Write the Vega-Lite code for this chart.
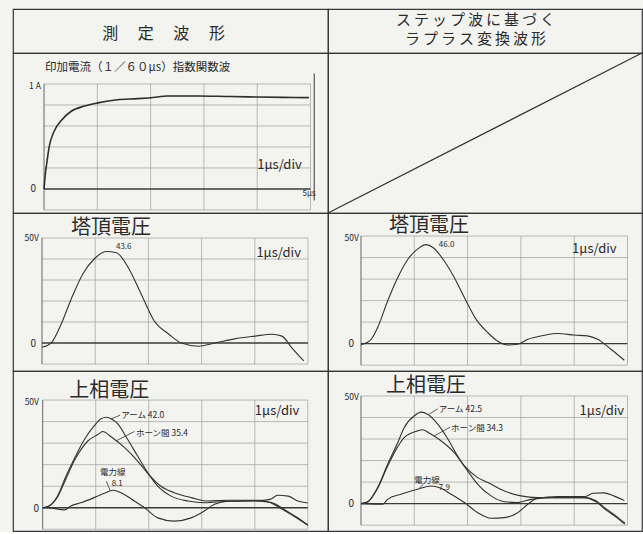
{
"$schema":"https://vega.github.io/schema/vega-lite/v6.json",
"background":"#f3f3f0",
"padding":{"left":12,"top":8,"right":0,"bottom":0},
"spacing":0,
"bounds":"flush",
"columns":2,
"config":{"view":{"stroke":"#383838","strokeWidth":1.2},"concat":{"spacing":0},"text":{"font":"Noto Sans CJK JP"}},
"datasets":{
"grid":[
{"g":"V","o":"v","k":"axis","x":0,"y":-10,"y2":50},
{"g":"V","o":"v","k":"grid","x":1,"y":-10,"y2":50},
{"g":"V","o":"v","k":"grid","x":2,"y":-10,"y2":50},
{"g":"V","o":"v","k":"grid","x":3,"y":-10,"y2":50},
{"g":"V","o":"v","k":"grid","x":4,"y":-10,"y2":50},
{"g":"V","o":"v","k":"grid","x":5,"y":-10,"y2":50},
{"g":"V","o":"h","k":"grid","y":-10,"x":0,"x2":5},
{"g":"V","o":"h","k":"zero","y":0,"x":0,"x2":5},
{"g":"V","o":"h","k":"grid","y":10,"x":0,"x2":5},
{"g":"V","o":"h","k":"grid","y":20,"x":0,"x2":5},
{"g":"V","o":"h","k":"grid","y":30,"x":0,"x2":5},
{"g":"V","o":"h","k":"grid","y":40,"x":0,"x2":5},
{"g":"V","o":"h","k":"grid","y":50,"x":0,"x2":5},
{"g":"A","o":"v","k":"axis","x":0,"y":-0.2,"y2":1},
{"g":"A","o":"v","k":"grid","x":1,"y":-0.2,"y2":1},
{"g":"A","o":"v","k":"grid","x":2,"y":-0.2,"y2":1},
{"g":"A","o":"v","k":"grid","x":3,"y":-0.2,"y2":1},
{"g":"A","o":"v","k":"grid","x":4,"y":-0.2,"y2":1},
{"g":"A","o":"v","k":"grid","x":5,"y":-0.2,"y2":1},
{"g":"A","o":"v","k":"edge","x":5.07,"y":-0.11,"y2":1.1},
{"g":"A","o":"h","k":"grid","y":-0.2,"x":0,"x2":5},
{"g":"A","o":"h","k":"zero","y":0,"x":0,"x2":5},
{"g":"A","o":"h","k":"grid","y":0.2,"x":0,"x2":5},
{"g":"A","o":"h","k":"grid","y":0.4,"x":0,"x2":5},
{"g":"A","o":"h","k":"grid","y":0.6,"x":0,"x2":5},
{"g":"A","o":"h","k":"grid","y":0.8,"x":0,"x2":5},
{"g":"A","o":"h","k":"grid","y":1.0,"x":0,"x2":5}
],
"waves":[
{"p":"I","s":"i","x":0,"y":0},{"p":"I","s":"i","x":0.02,"y":0.12},{"p":"I","s":"i","x":0.05,"y":0.24},{"p":"I","s":"i","x":0.1,"y":0.41},{"p":"I","s":"i","x":0.19,"y":0.55},{"p":"I","s":"i","x":0.32,"y":0.65},{"p":"I","s":"i","x":0.51,"y":0.74},{"p":"I","s":"i","x":0.76,"y":0.79},{"p":"I","s":"i","x":1.01,"y":0.82},{"p":"I","s":"i","x":1.38,"y":0.85},{"p":"I","s":"i","x":1.76,"y":0.86},{"p":"I","s":"i","x":2.13,"y":0.876},{"p":"I","s":"i","x":2.3,"y":0.886},{"p":"I","s":"i","x":2.88,"y":0.886},{"p":"I","s":"i","x":3.5,"y":0.88},{"p":"I","s":"i","x":4.0,"y":0.876},{"p":"I","s":"i","x":4.5,"y":0.872},{"p":"I","s":"i","x":4.97,"y":0.87},
{"p":"TL","s":"t","x":0,"y":-2},{"p":"TL","s":"t","x":0.17,"y":0},{"p":"TL","s":"t","x":0.36,"y":9},{"p":"TL","s":"t","x":0.55,"y":21},{"p":"TL","s":"t","x":0.77,"y":33},{"p":"TL","s":"t","x":0.98,"y":40},{"p":"TL","s":"t","x":1.21,"y":43.6},{"p":"TL","s":"t","x":1.4,"y":43},{"p":"TL","s":"t","x":1.62,"y":36},{"p":"TL","s":"t","x":1.87,"y":23},{"p":"TL","s":"t","x":2.11,"y":10.5},{"p":"TL","s":"t","x":2.38,"y":4.3},{"p":"TL","s":"t","x":2.62,"y":0},{"p":"TL","s":"t","x":2.94,"y":-1.5},{"p":"TL","s":"t","x":3.25,"y":0},{"p":"TL","s":"t","x":3.62,"y":2},{"p":"TL","s":"t","x":4.0,"y":3.3},{"p":"TL","s":"t","x":4.32,"y":4.2},{"p":"TL","s":"t","x":4.51,"y":3.3},{"p":"TL","s":"t","x":4.7,"y":-2.4},{"p":"TL","s":"t","x":4.92,"y":-8.5},
{"p":"TR","s":"t","x":0,"y":-0.5},{"p":"TR","s":"t","x":0.19,"y":2},{"p":"TR","s":"t","x":0.31,"y":7.4},{"p":"TR","s":"t","x":0.5,"y":19.8},{"p":"TR","s":"t","x":0.69,"y":30.7},{"p":"TR","s":"t","x":0.88,"y":39.2},{"p":"TR","s":"t","x":1.06,"y":43.9},{"p":"TR","s":"t","x":1.22,"y":46},{"p":"TR","s":"t","x":1.35,"y":44.7},{"p":"TR","s":"t","x":1.56,"y":38.5},{"p":"TR","s":"t","x":1.75,"y":30.7},{"p":"TR","s":"t","x":1.94,"y":21.4},{"p":"TR","s":"t","x":2.16,"y":11.3},{"p":"TR","s":"t","x":2.38,"y":5.1},{"p":"TR","s":"t","x":2.56,"y":1.2},{"p":"TR","s":"t","x":2.75,"y":-0.6},{"p":"TR","s":"t","x":2.94,"y":-0.3},{"p":"TR","s":"t","x":3.13,"y":2},{"p":"TR","s":"t","x":3.44,"y":3.9},{"p":"TR","s":"t","x":3.69,"y":4.7},{"p":"TR","s":"t","x":4.0,"y":4},{"p":"TR","s":"t","x":4.25,"y":3.6},{"p":"TR","s":"t","x":4.44,"y":2},{"p":"TR","s":"t","x":4.69,"y":-2.6},{"p":"TR","s":"t","x":4.94,"y":-7.7},
{"p":"UL","s":"arm","x":0,"y":0},{"p":"UL","s":"arm","x":0.12,"y":0.8},{"p":"UL","s":"arm","x":0.28,"y":5.4},{"p":"UL","s":"arm","x":0.44,"y":14.7},{"p":"UL","s":"arm","x":0.6,"y":23},{"p":"UL","s":"arm","x":0.79,"y":31.8},{"p":"UL","s":"arm","x":0.97,"y":38},{"p":"UL","s":"arm","x":1.1,"y":41.3},{"p":"UL","s":"arm","x":1.2,"y":42},{"p":"UL","s":"arm","x":1.3,"y":41.2},{"p":"UL","s":"arm","x":1.42,"y":38.8},{"p":"UL","s":"arm","x":1.6,"y":31.8},{"p":"UL","s":"arm","x":1.79,"y":24},{"p":"UL","s":"arm","x":1.98,"y":16.3},{"p":"UL","s":"arm","x":2.17,"y":10},{"p":"UL","s":"arm","x":2.42,"y":5.4},{"p":"UL","s":"arm","x":2.74,"y":3.1},{"p":"UL","s":"arm","x":3.05,"y":2.3},{"p":"UL","s":"arm","x":3.5,"y":3},{"p":"UL","s":"arm","x":4.0,"y":3.2},{"p":"UL","s":"arm","x":4.3,"y":2.5},{"p":"UL","s":"arm","x":4.6,"y":-1.5},{"p":"UL","s":"arm","x":4.8,"y":-4.5},{"p":"UL","s":"arm","x":5.0,"y":-8},
{"p":"UL","s":"horn","x":0,"y":0},{"p":"UL","s":"horn","x":0.12,"y":0.8},{"p":"UL","s":"horn","x":0.28,"y":5},{"p":"UL","s":"horn","x":0.44,"y":13.5},{"p":"UL","s":"horn","x":0.6,"y":22},{"p":"UL","s":"horn","x":0.72,"y":27},{"p":"UL","s":"horn","x":0.85,"y":31},{"p":"UL","s":"horn","x":1.04,"y":34},{"p":"UL","s":"horn","x":1.13,"y":35.4},{"p":"UL","s":"horn","x":1.29,"y":33},{"p":"UL","s":"horn","x":1.54,"y":28},{"p":"UL","s":"horn","x":1.79,"y":21.7},{"p":"UL","s":"horn","x":1.98,"y":16},{"p":"UL","s":"horn","x":2.23,"y":10},{"p":"UL","s":"horn","x":2.48,"y":7},{"p":"UL","s":"horn","x":2.8,"y":4.7},{"p":"UL","s":"horn","x":3.11,"y":3.1},{"p":"UL","s":"horn","x":3.5,"y":3.5},{"p":"UL","s":"horn","x":4.1,"y":3.5},{"p":"UL","s":"horn","x":4.3,"y":2.3},{"p":"UL","s":"horn","x":4.5,"y":-0.5},{"p":"UL","s":"horn","x":4.68,"y":-3},{"p":"UL","s":"horn","x":5.0,"y":-8.2},
{"p":"UL","s":"pow","x":0,"y":0},{"p":"UL","s":"pow","x":0.2,"y":-0.3},{"p":"UL","s":"pow","x":0.41,"y":-1},{"p":"UL","s":"pow","x":0.53,"y":0.8},{"p":"UL","s":"pow","x":0.72,"y":2.3},{"p":"UL","s":"pow","x":0.97,"y":4.7},{"p":"UL","s":"pow","x":1.16,"y":6.7},{"p":"UL","s":"pow","x":1.32,"y":8.1},{"p":"UL","s":"pow","x":1.54,"y":6.2},{"p":"UL","s":"pow","x":1.73,"y":3.1},{"p":"UL","s":"pow","x":1.92,"y":0},{"p":"UL","s":"pow","x":2.17,"y":-4.7},{"p":"UL","s":"pow","x":2.48,"y":-6.2},{"p":"UL","s":"pow","x":2.8,"y":-4.7},{"p":"UL","s":"pow","x":3.05,"y":-1.5},{"p":"UL","s":"pow","x":3.24,"y":1.6},{"p":"UL","s":"pow","x":3.5,"y":3},{"p":"UL","s":"pow","x":4.1,"y":3.3},{"p":"UL","s":"pow","x":4.3,"y":4},{"p":"UL","s":"pow","x":4.43,"y":5.8},{"p":"UL","s":"pow","x":4.63,"y":5.4},{"p":"UL","s":"pow","x":4.81,"y":3.1},{"p":"UL","s":"pow","x":5.0,"y":2.2},
{"p":"UR","s":"arm","x":0,"y":0},{"p":"UR","s":"arm","x":0.13,"y":0.9},{"p":"UR","s":"arm","x":0.31,"y":7.4},{"p":"UR","s":"arm","x":0.5,"y":18.3},{"p":"UR","s":"arm","x":0.69,"y":28.4},{"p":"UR","s":"arm","x":0.81,"y":35.3},{"p":"UR","s":"arm","x":1.0,"y":40.8},{"p":"UR","s":"arm","x":1.13,"y":42.5},{"p":"UR","s":"arm","x":1.25,"y":41.5},{"p":"UR","s":"arm","x":1.44,"y":36.9},{"p":"UR","s":"arm","x":1.63,"y":30},{"p":"UR","s":"arm","x":1.81,"y":22.2},{"p":"UR","s":"arm","x":2.0,"y":15.2},{"p":"UR","s":"arm","x":2.19,"y":9},{"p":"UR","s":"arm","x":2.44,"y":3.6},{"p":"UR","s":"arm","x":2.69,"y":0.9},{"p":"UR","s":"arm","x":2.94,"y":0.5},{"p":"UR","s":"arm","x":3.19,"y":2},{"p":"UR","s":"arm","x":3.56,"y":2.8},{"p":"UR","s":"arm","x":4.2,"y":2.8},{"p":"UR","s":"arm","x":4.4,"y":1.5},{"p":"UR","s":"arm","x":4.6,"y":-2.5},{"p":"UR","s":"arm","x":4.8,"y":-6},{"p":"UR","s":"arm","x":4.95,"y":-9},
{"p":"UR","s":"horn","x":0,"y":0},{"p":"UR","s":"horn","x":0.13,"y":0.9},{"p":"UR","s":"horn","x":0.31,"y":7},{"p":"UR","s":"horn","x":0.5,"y":17.5},{"p":"UR","s":"horn","x":0.69,"y":26.5},{"p":"UR","s":"horn","x":0.81,"y":30.7},{"p":"UR","s":"horn","x":1.06,"y":33.8},{"p":"UR","s":"horn","x":1.16,"y":34.3},{"p":"UR","s":"horn","x":1.31,"y":32.3},{"p":"UR","s":"horn","x":1.5,"y":29.2},{"p":"UR","s":"horn","x":1.75,"y":23.7},{"p":"UR","s":"horn","x":1.94,"y":17.5},{"p":"UR","s":"horn","x":2.19,"y":12.1},{"p":"UR","s":"horn","x":2.38,"y":9.8},{"p":"UR","s":"horn","x":2.69,"y":5.9},{"p":"UR","s":"horn","x":3.0,"y":3.6},{"p":"UR","s":"horn","x":3.31,"y":2.8},{"p":"UR","s":"horn","x":4.2,"y":2.8},{"p":"UR","s":"horn","x":4.4,"y":1},{"p":"UR","s":"horn","x":4.6,"y":-3},{"p":"UR","s":"horn","x":4.8,"y":-6.5},{"p":"UR","s":"horn","x":4.95,"y":-9.5},
{"p":"UR","s":"pow","x":0,"y":0},{"p":"UR","s":"pow","x":0.41,"y":-0.3},{"p":"UR","s":"pow","x":0.5,"y":2},{"p":"UR","s":"pow","x":0.75,"y":4.4},{"p":"UR","s":"pow","x":1.06,"y":6.7},{"p":"UR","s":"pow","x":1.31,"y":8.2},{"p":"UR","s":"pow","x":1.5,"y":7.1},{"p":"UR","s":"pow","x":1.69,"y":4.4},{"p":"UR","s":"pow","x":1.94,"y":0.5},{"p":"UR","s":"pow","x":2.19,"y":-4.2},{"p":"UR","s":"pow","x":2.44,"y":-6.8},{"p":"UR","s":"pow","x":2.69,"y":-6.5},{"p":"UR","s":"pow","x":2.94,"y":-4.2},{"p":"UR","s":"pow","x":3.13,"y":-0.3},{"p":"UR","s":"pow","x":3.31,"y":2.5},{"p":"UR","s":"pow","x":3.69,"y":3.3},{"p":"UR","s":"pow","x":4.2,"y":3.3},{"p":"UR","s":"pow","x":4.35,"y":4.8},{"p":"UR","s":"pow","x":4.55,"y":5},{"p":"UR","s":"pow","x":4.75,"y":3.5},{"p":"UR","s":"pow","x":4.94,"y":1.5}
],
"leaders":[
{"p":"UL","id":"a","x":1.29,"y":41.2},{"p":"UL","id":"a","x":1.46,"y":43},
{"p":"UL","id":"h","x":1.38,"y":31},{"p":"UL","id":"h","x":1.73,"y":35.4},
{"p":"UL","id":"w","x":1.2,"y":12.4},{"p":"UL","id":"w","x":1.27,"y":8.0},
{"p":"UR","id":"a","x":1.28,"y":41.6},{"p":"UR","id":"a","x":1.44,"y":44},
{"p":"UR","id":"h","x":1.37,"y":31.4},{"p":"UR","id":"h","x":1.67,"y":35.5},
{"p":"UR","id":"w","x":1.09,"y":7.1},{"p":"UR","id":"w","x":1.17,"y":9.0}
],
"notes":[
{"p":"I","k":"sub","x":0.02,"y":1.152,"text":"印加電流（１／６０µs）指数関数波"},
{"p":"I","k":"ax","x":-0.06,"y":0.98,"text":"1 A"},
{"p":"I","k":"zero","x":-0.15,"y":0,"text":"0"},
{"p":"I","k":"small","x":4.85,"y":-0.05,"text":"5µs"},
{"p":"I","k":"div","x":4.0,"y":0.23,"text":"1µs/div"},
{"p":"TL","k":"title","x":0.545,"y":54.8,"text":"塔頂電圧"},
{"p":"TL","k":"ax","x":-0.06,"y":50,"text":"50V"},
{"p":"TL","k":"zero","x":-0.11,"y":-0.5,"text":"0"},
{"p":"TL","k":"small","x":1.39,"y":45.6,"text":"43.6"},
{"p":"TL","k":"div","x":4.03,"y":42.9,"text":"1µs/div"},
{"p":"TR","k":"title","x":0.525,"y":54.6,"text":"塔頂電圧"},
{"p":"TR","k":"ax","x":-0.04,"y":49,"text":"50V"},
{"p":"TR","k":"zero","x":-0.13,"y":0,"text":"0"},
{"p":"TR","k":"small","x":1.46,"y":45.8,"text":"46.0"},
{"p":"TR","k":"div","x":3.96,"y":44,"text":"1µs/div"},
{"p":"UL","k":"title","x":0.5,"y":54.2,"text":"上相電圧"},
{"p":"UL","k":"ax","x":-0.07,"y":49,"text":"50V"},
{"p":"UL","k":"zero","x":-0.07,"y":-0.6,"text":"0"},
{"p":"UL","k":"label","x":1.48,"y":43,"text":"アーム 42.0"},
{"p":"UL","k":"label","x":1.76,"y":34.7,"text":"ホーン間 35.4"},
{"p":"UL","k":"label","x":1.08,"y":16.4,"text":"電力線"},
{"p":"UL","k":"small","x":1.3,"y":10.9,"text":"8.1"},
{"p":"UL","k":"div","x":4.0,"y":44.9,"text":"1µs/div"},
{"p":"UR","k":"title","x":0.47,"y":54.6,"text":"上相電圧"},
{"p":"UR","k":"ax","x":-0.04,"y":49.5,"text":"50V"},
{"p":"UR","k":"zero","x":-0.13,"y":0,"text":"0"},
{"p":"UR","k":"label","x":1.46,"y":44,"text":"アーム 42.5"},
{"p":"UR","k":"label","x":1.69,"y":35.1,"text":"ホーン間 34.3"},
{"p":"UR","k":"label","x":1.0,"y":10.8,"text":"電力線"},
{"p":"UR","k":"small","x":1.46,"y":7.4,"text":"7.9"},
{"p":"UR","k":"div","x":4.1,"y":43,"text":"1µs/div"}
],
"heads":[
{"p":"HL","x":0.478,"y":0.43,"text":"測　  定　  波　  形"},
{"p":"HR","x":0.47,"y":0.74,"text":"ス\u2009テ\u2009ッ\u2009プ\u2009波\u2009に\u2009基\u2009づ\u2009く"},
{"p":"HR","x":0.47,"y":0.31,"text":"ラ\u2009プ\u2009ラ\u2009ス\u2009変\u2009換\u2009波\u2009形"}
]
},
"concat":[
 {"width":315,"height":44,"data":{"name":"heads"},"transform":[{"filter":"datum.p=='HL'"}],
  "mark":{"type":"text","align":"center","baseline":"middle","fontSize":16,"color":"#2a2a2a"},
  "encoding":{"x":{"field":"x","type":"quantitative","scale":{"domain":[0,1],"nice":false},"axis":null},"y":{"field":"y","type":"quantitative","scale":{"domain":[0,1],"nice":false},"axis":null},"text":{"field":"text"}}},
 {"width":314,"height":44,"data":{"name":"heads"},"transform":[{"filter":"datum.p=='HR'"}],
  "mark":{"type":"text","align":"center","baseline":"middle","fontSize":15,"color":"#2a2a2a"},
  "encoding":{"x":{"field":"x","type":"quantitative","scale":{"domain":[0,1],"nice":false},"axis":null},"y":{"field":"y","type":"quantitative","scale":{"domain":[0,1],"nice":false},"axis":null},"text":{"field":"text"}}},
 {"width":315,"height":160,
  "encoding":{"x":{"field":"x","type":"quantitative","scale":{"domain":[-0.582,5.328],"nice":false,"zero":false},"axis":null},"y":{"field":"y","type":"quantitative","scale":{"domain":[-0.229,1.295],"nice":false,"zero":false},"axis":null}},
  "layer":[
   {"data":{"name":"grid"},"transform":[{"filter":"datum.g=='A' && datum.o=='v' && datum.k=='grid'"}],"mark":{"type":"rule","color":"#a8a8a8","strokeWidth":0.8},"encoding":{"y2":{"field":"y2"}}},
   {"data":{"name":"grid"},"transform":[{"filter":"datum.g=='A' && datum.o=='h' && datum.k=='grid'"}],"mark":{"type":"rule","color":"#a8a8a8","strokeWidth":0.8},"encoding":{"x2":{"field":"x2"}}},
   {"data":{"name":"grid"},"transform":[{"filter":"datum.g=='A' && datum.o=='v' && datum.k=='axis'"}],"mark":{"type":"rule","color":"#666","strokeWidth":1},"encoding":{"y2":{"field":"y2"}}},
   {"data":{"name":"grid"},"transform":[{"filter":"datum.g=='A' && datum.o=='v' && datum.k=='edge'"}],"mark":{"type":"rule","color":"#555","strokeWidth":1.2},"encoding":{"y2":{"field":"y2"}}},
   {"data":{"name":"grid"},"transform":[{"filter":"datum.g=='A' && datum.o=='h' && datum.k=='zero'"}],"mark":{"type":"rule","color":"#3a3a3a","strokeWidth":1.4},"encoding":{"x2":{"field":"x2"}}},
   {"data":{"name":"waves"},"transform":[{"filter":"datum.p=='I'"}],"mark":{"type":"line","color":"#2e2e2e","strokeWidth":1.6,"interpolate":"monotone"},"encoding":{"detail":{"field":"s"}}},
   {"data":{"name":"notes"},"transform":[{"filter":"datum.p=='I' && datum.k!='ax' && datum.k!='zero'"}],"mark":{"type":"text","align":"left","baseline":"middle","color":"#2a2a2a"},"encoding":{"text":{"field":"text"},"size":{"field":"k","type":"nominal","scale":{"type":"ordinal","domain":["title","sub","small","label","div","ax","zero"],"range":[20,11.5,8,8.5,13,8.5,10]},"legend":null}}},
   {"data":{"name":"notes"},"transform":[{"filter":"datum.p=='I' && (datum.k=='ax' || datum.k=='zero')"}],"mark":{"type":"text","align":"right","baseline":"middle","color":"#2a2a2a"},"encoding":{"text":{"field":"text"},"size":{"field":"k","type":"nominal","scale":{"type":"ordinal","domain":["title","sub","small","label","div","ax","zero"],"range":[20,11.5,8,8.5,13,8.5,10]},"legend":null}}}
  ]},
 {"width":314,"height":160,"data":{"values":[{"x":0,"y":0},{"x":1,"y":1}]},"mark":{"type":"line","color":"#333","strokeWidth":1.2},
  "encoding":{"x":{"field":"x","type":"quantitative","scale":{"domain":[0,1],"nice":false},"axis":null},"y":{"field":"y","type":"quantitative","scale":{"domain":[0,1],"nice":false},"axis":null}}},
 {"width":315,"height":158,
  "encoding":{"x":{"field":"x","type":"quantitative","scale":{"domain":[-0.545,5.376],"nice":false,"zero":false},"axis":null},"y":{"field":"y","type":"quantitative","scale":{"domain":[-13.3,61.9],"nice":false,"zero":false},"axis":null}},
  "layer":[
   {"data":{"name":"grid"},"transform":[{"filter":"datum.g=='V' && datum.o=='v' && datum.k=='grid'"}],"mark":{"type":"rule","color":"#a8a8a8","strokeWidth":0.8},"encoding":{"y2":{"field":"y2"}}},
   {"data":{"name":"grid"},"transform":[{"filter":"datum.g=='V' && datum.o=='h' && datum.k=='grid'"}],"mark":{"type":"rule","color":"#a8a8a8","strokeWidth":0.8},"encoding":{"x2":{"field":"x2"}}},
   {"data":{"name":"grid"},"transform":[{"filter":"datum.g=='V' && datum.o=='v' && datum.k=='axis'"}],"mark":{"type":"rule","color":"#666","strokeWidth":1},"encoding":{"y2":{"field":"y2"}}},
   {"data":{"name":"grid"},"transform":[{"filter":"datum.g=='V' && datum.o=='h' && datum.k=='zero'"}],"mark":{"type":"rule","color":"#3a3a3a","strokeWidth":1.4},"encoding":{"x2":{"field":"x2"}}},
   {"data":{"name":"waves"},"transform":[{"filter":"datum.p=='TL'"}],"mark":{"type":"line","color":"#333","strokeWidth":1.1,"interpolate":"monotone"},"encoding":{"detail":{"field":"s"}}},
   {"data":{"name":"notes"},"transform":[{"filter":"datum.p=='TL' && datum.k!='ax' && datum.k!='zero'"}],"mark":{"type":"text","align":"left","baseline":"middle","color":"#2a2a2a"},"encoding":{"text":{"field":"text"},"size":{"field":"k","type":"nominal","scale":{"type":"ordinal","domain":["title","sub","small","label","div","ax","zero"],"range":[20,11.5,8,8.5,13,8.5,11]},"legend":null}}},
   {"data":{"name":"notes"},"transform":[{"filter":"datum.p=='TL' && (datum.k=='ax' || datum.k=='zero')"}],"mark":{"type":"text","align":"right","baseline":"middle","color":"#2a2a2a"},"encoding":{"text":{"field":"text"},"size":{"field":"k","type":"nominal","scale":{"type":"ordinal","domain":["title","sub","small","label","div","ax","zero"],"range":[20,11.5,8,8.5,13,8.5,11]},"legend":null}}}
  ]},
 {"width":314,"height":158,
  "encoding":{"x":{"field":"x","type":"quantitative","scale":{"domain":[-0.619,5.272],"nice":false,"zero":false},"axis":null},"y":{"field":"y","type":"quantitative","scale":{"domain":[-12.7,60.7],"nice":false,"zero":false},"axis":null}},
  "layer":[
   {"data":{"name":"grid"},"transform":[{"filter":"datum.g=='V' && datum.o=='v' && datum.k=='grid'"}],"mark":{"type":"rule","color":"#a8a8a8","strokeWidth":0.8},"encoding":{"y2":{"field":"y2"}}},
   {"data":{"name":"grid"},"transform":[{"filter":"datum.g=='V' && datum.o=='h' && datum.k=='grid'"}],"mark":{"type":"rule","color":"#a8a8a8","strokeWidth":0.8},"encoding":{"x2":{"field":"x2"}}},
   {"data":{"name":"grid"},"transform":[{"filter":"datum.g=='V' && datum.o=='v' && datum.k=='axis'"}],"mark":{"type":"rule","color":"#666","strokeWidth":1},"encoding":{"y2":{"field":"y2"}}},
   {"data":{"name":"grid"},"transform":[{"filter":"datum.g=='V' && datum.o=='h' && datum.k=='zero'"}],"mark":{"type":"rule","color":"#3a3a3a","strokeWidth":1.4},"encoding":{"x2":{"field":"x2"}}},
   {"data":{"name":"waves"},"transform":[{"filter":"datum.p=='TR'"}],"mark":{"type":"line","color":"#333","strokeWidth":1.1,"interpolate":"monotone"},"encoding":{"detail":{"field":"s"}}},
   {"data":{"name":"notes"},"transform":[{"filter":"datum.p=='TR' && datum.k!='ax' && datum.k!='zero'"}],"mark":{"type":"text","align":"left","baseline":"middle","color":"#2a2a2a"},"encoding":{"text":{"field":"text"},"size":{"field":"k","type":"nominal","scale":{"type":"ordinal","domain":["title","sub","small","label","div","ax","zero"],"range":[20,11.5,8,8.5,13,8.5,11]},"legend":null}}},
   {"data":{"name":"notes"},"transform":[{"filter":"datum.p=='TR' && (datum.k=='ax' || datum.k=='zero')"}],"mark":{"type":"text","align":"right","baseline":"middle","color":"#2a2a2a"},"encoding":{"text":{"field":"text"},"size":{"field":"k","type":"nominal","scale":{"type":"ordinal","domain":["title","sub","small","label","div","ax","zero"],"range":[20,11.5,8,8.5,13,8.5,11]},"legend":null}}}
  ]},
 {"width":315,"height":160,
  "encoding":{"x":{"field":"x","type":"quantitative","scale":{"domain":[-0.56,5.38],"nice":false,"zero":false},"axis":null},"y":{"field":"y","type":"quantitative","scale":{"domain":[-10.8,63.5],"nice":false,"zero":false},"axis":null}},
  "layer":[
   {"data":{"name":"grid"},"transform":[{"filter":"datum.g=='V' && datum.o=='v' && datum.k=='grid'"}],"mark":{"type":"rule","color":"#a8a8a8","strokeWidth":0.8},"encoding":{"y2":{"field":"y2"}}},
   {"data":{"name":"grid"},"transform":[{"filter":"datum.g=='V' && datum.o=='h' && datum.k=='grid'"}],"mark":{"type":"rule","color":"#a8a8a8","strokeWidth":0.8},"encoding":{"x2":{"field":"x2"}}},
   {"data":{"name":"grid"},"transform":[{"filter":"datum.g=='V' && datum.o=='v' && datum.k=='axis'"}],"mark":{"type":"rule","color":"#666","strokeWidth":1},"encoding":{"y2":{"field":"y2"}}},
   {"data":{"name":"grid"},"transform":[{"filter":"datum.g=='V' && datum.o=='h' && datum.k=='zero'"}],"mark":{"type":"rule","color":"#3a3a3a","strokeWidth":1.4},"encoding":{"x2":{"field":"x2"}}},
   {"data":{"name":"waves"},"transform":[{"filter":"datum.p=='UL'"}],"mark":{"type":"line","color":"#333","strokeWidth":1.1,"interpolate":"monotone"},"encoding":{"detail":{"field":"s"}}},
   {"data":{"name":"leaders"},"transform":[{"filter":"datum.p=='UL'"}],"mark":{"type":"line","color":"#333","strokeWidth":0.8},"encoding":{"detail":{"field":"id"}}},
   {"data":{"name":"notes"},"transform":[{"filter":"datum.p=='UL' && datum.k!='ax' && datum.k!='zero'"}],"mark":{"type":"text","align":"left","baseline":"middle","color":"#2a2a2a"},"encoding":{"text":{"field":"text"},"size":{"field":"k","type":"nominal","scale":{"type":"ordinal","domain":["title","sub","small","label","div","ax","zero"],"range":[20,11.5,8,8.5,13,8.5,11]},"legend":null}}},
   {"data":{"name":"notes"},"transform":[{"filter":"datum.p=='UL' && (datum.k=='ax' || datum.k=='zero')"}],"mark":{"type":"text","align":"right","baseline":"middle","color":"#2a2a2a"},"encoding":{"text":{"field":"text"},"size":{"field":"k","type":"nominal","scale":{"type":"ordinal","domain":["title","sub","small","label","div","ax","zero"],"range":[20,11.5,8,8.5,13,8.5,11]},"legend":null}}}
  ]},
 {"width":314,"height":160,
  "encoding":{"x":{"field":"x","type":"quantitative","scale":{"domain":[-0.619,5.272],"nice":false,"zero":false},"axis":null},"y":{"field":"y","type":"quantitative","scale":{"domain":[-12.7,61.6],"nice":false,"zero":false},"axis":null}},
  "layer":[
   {"data":{"name":"grid"},"transform":[{"filter":"datum.g=='V' && datum.o=='v' && datum.k=='grid'"}],"mark":{"type":"rule","color":"#a8a8a8","strokeWidth":0.8},"encoding":{"y2":{"field":"y2"}}},
   {"data":{"name":"grid"},"transform":[{"filter":"datum.g=='V' && datum.o=='h' && datum.k=='grid'"}],"mark":{"type":"rule","color":"#a8a8a8","strokeWidth":0.8},"encoding":{"x2":{"field":"x2"}}},
   {"data":{"name":"grid"},"transform":[{"filter":"datum.g=='V' && datum.o=='v' && datum.k=='axis'"}],"mark":{"type":"rule","color":"#666","strokeWidth":1},"encoding":{"y2":{"field":"y2"}}},
   {"data":{"name":"grid"},"transform":[{"filter":"datum.g=='V' && datum.o=='h' && datum.k=='zero'"}],"mark":{"type":"rule","color":"#3a3a3a","strokeWidth":1.4},"encoding":{"x2":{"field":"x2"}}},
   {"data":{"name":"waves"},"transform":[{"filter":"datum.p=='UR'"}],"mark":{"type":"line","color":"#333","strokeWidth":1.1,"interpolate":"monotone"},"encoding":{"detail":{"field":"s"}}},
   {"data":{"name":"leaders"},"transform":[{"filter":"datum.p=='UR'"}],"mark":{"type":"line","color":"#333","strokeWidth":0.8},"encoding":{"detail":{"field":"id"}}},
   {"data":{"name":"notes"},"transform":[{"filter":"datum.p=='UR' && datum.k!='ax' && datum.k!='zero'"}],"mark":{"type":"text","align":"left","baseline":"middle","color":"#2a2a2a"},"encoding":{"text":{"field":"text"},"size":{"field":"k","type":"nominal","scale":{"type":"ordinal","domain":["title","sub","small","label","div","ax","zero"],"range":[20,11.5,8,8.5,13,8.5,11]},"legend":null}}},
   {"data":{"name":"notes"},"transform":[{"filter":"datum.p=='UR' && (datum.k=='ax' || datum.k=='zero')"}],"mark":{"type":"text","align":"right","baseline":"middle","color":"#2a2a2a"},"encoding":{"text":{"field":"text"},"size":{"field":"k","type":"nominal","scale":{"type":"ordinal","domain":["title","sub","small","label","div","ax","zero"],"range":[20,11.5,8,8.5,13,8.5,11]},"legend":null}}}
  ]}
]
}
